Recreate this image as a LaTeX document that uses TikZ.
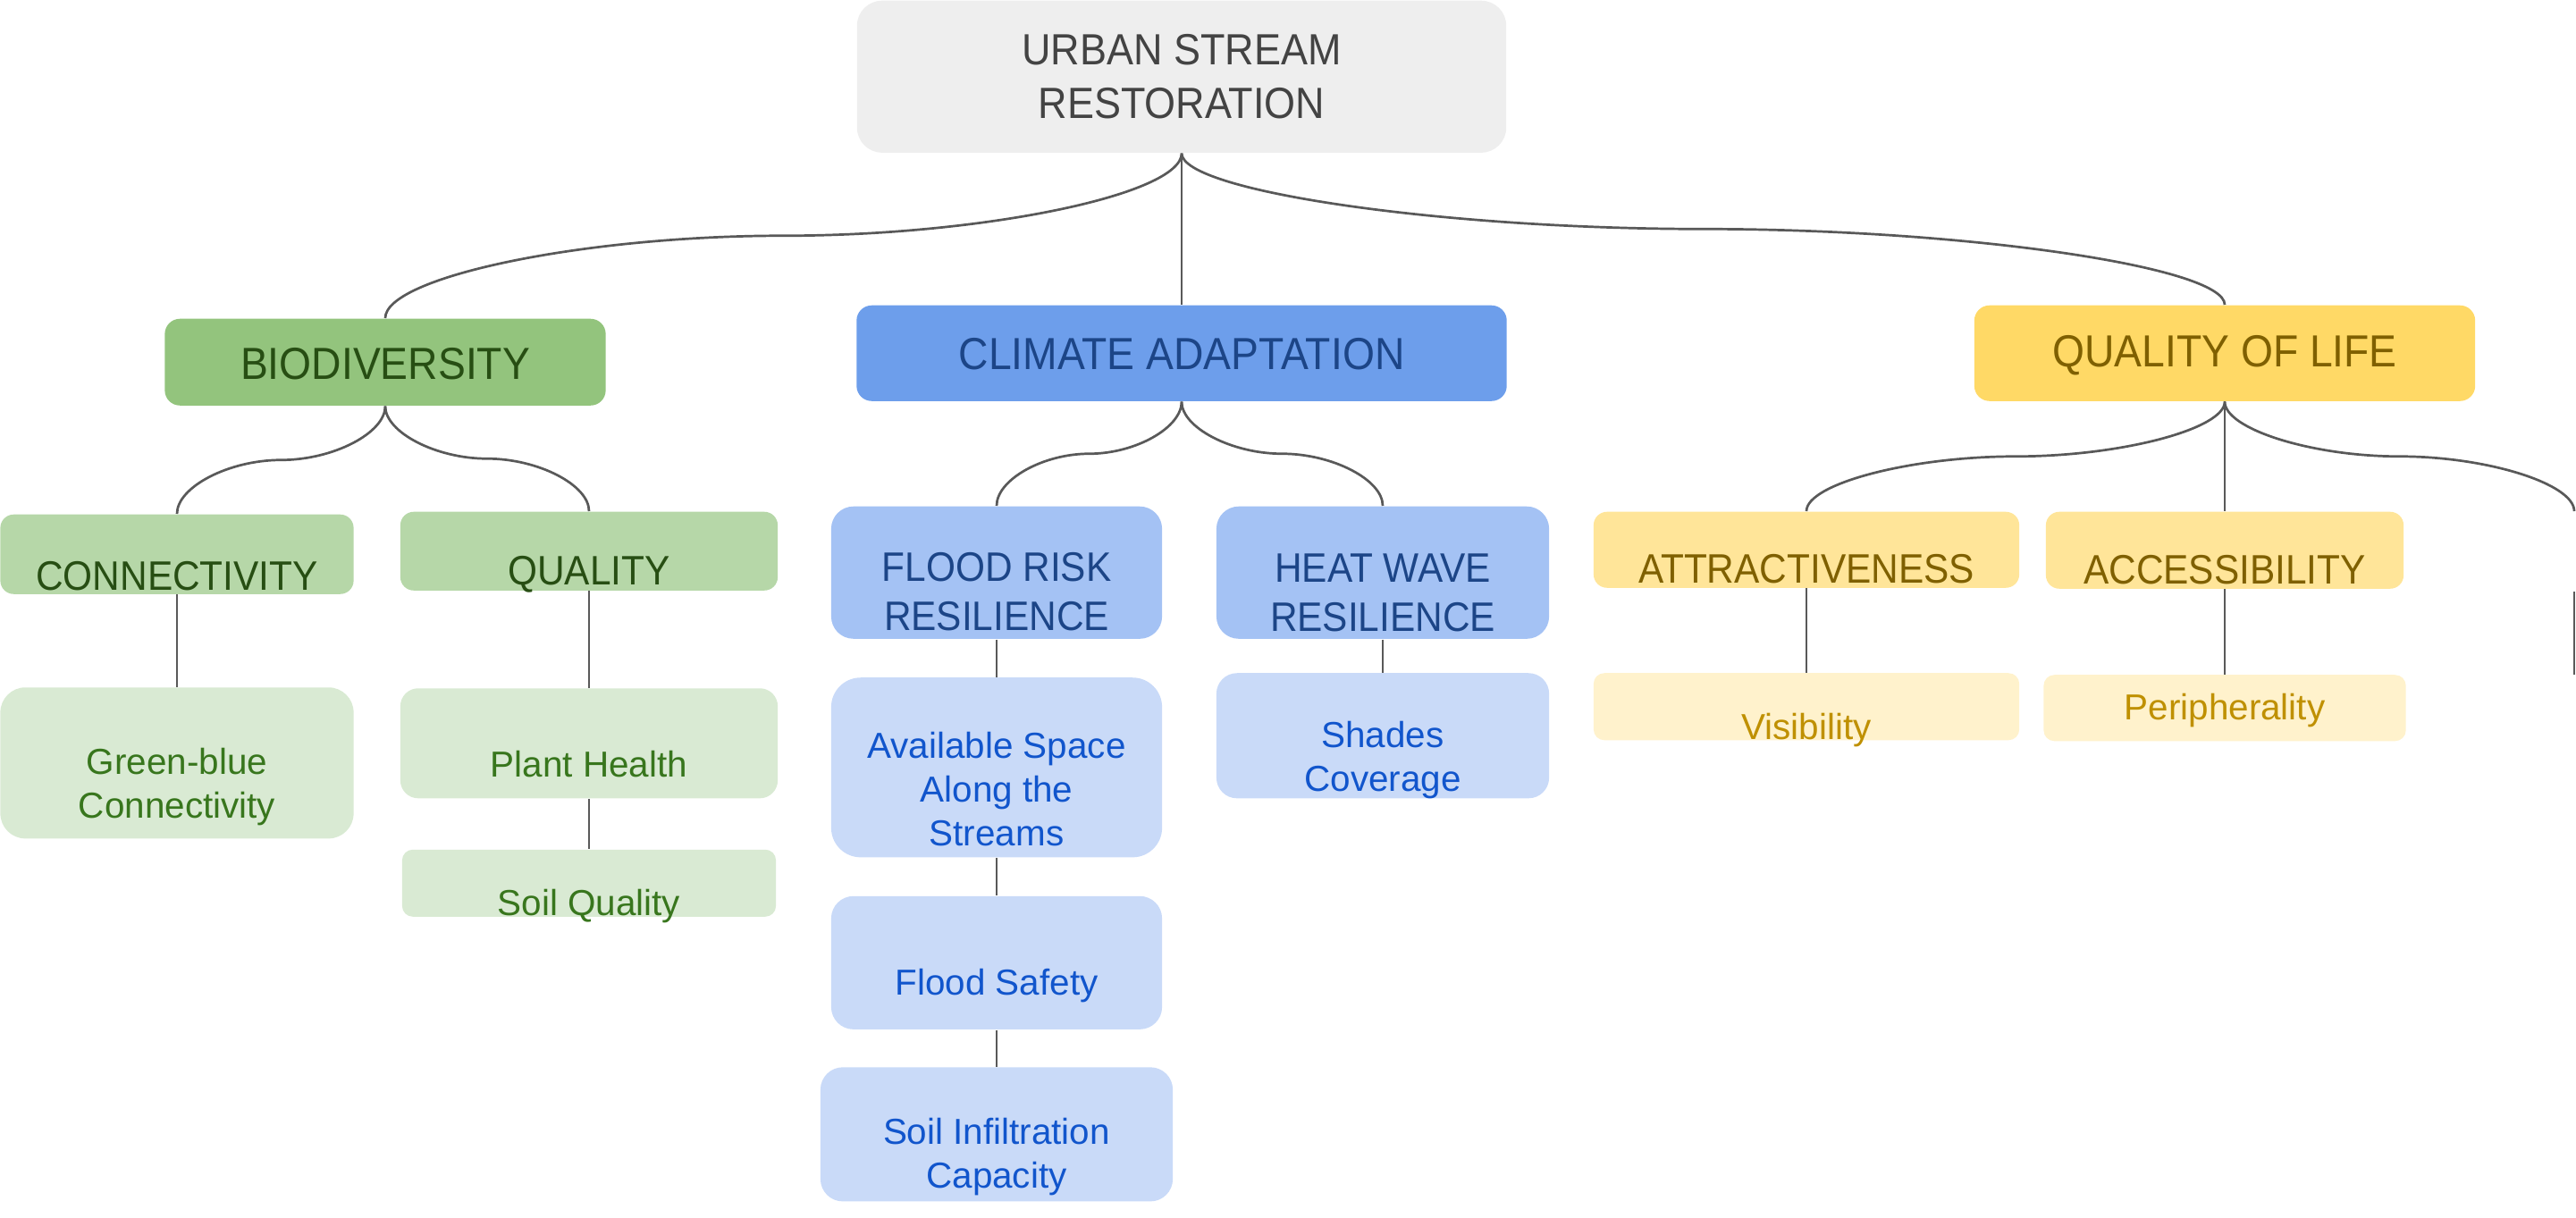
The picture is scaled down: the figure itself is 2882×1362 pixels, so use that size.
\documentclass[tikz,border=0pt]{standalone}
\usepackage{fontspec}
\setmainfont{Liberation Sans}[FakeStretch=0.92]
\newfontfamily\leaffont{Liberation Sans}
\usetikzlibrary{positioning, calc}

\definecolor{rootfill}{HTML}{EEEEEE}
\definecolor{roottext}{HTML}{434343}
\definecolor{linegray}{HTML}{595959}
\definecolor{greenA}{HTML}{93C47D}
\definecolor{greenB}{HTML}{B6D7A8}
\definecolor{greenC}{HTML}{D9EAD3}
\definecolor{greenD}{HTML}{274E13}
\definecolor{greenE}{HTML}{38761D}
\definecolor{blueA}{HTML}{6D9EEB}
\definecolor{blueB}{HTML}{A4C2F4}
\definecolor{blueC}{HTML}{C9DAF8}
\definecolor{blueD}{HTML}{1C4587}
\definecolor{blueE}{HTML}{1155CC}
\definecolor{yellowA}{HTML}{FFD966}
\definecolor{yellowB}{HTML}{FFE599}
\definecolor{yellowC}{HTML}{FFF2CC}
\definecolor{yellowD}{HTML}{7F6000}
\definecolor{yellowE}{HTML}{BF9000}

\newcommand{\txtroot}{\fontsize{13.9pt}{17.1pt}\selectfont}
\newcommand{\txtone}{\fontsize{14.3pt}{17.1pt}\selectfont}
\newcommand{\txttwo}{\fontsize{13.1pt}{15.6pt}\selectfont}
\newcommand{\txtthree}{\leaffont\fontsize{11.5pt}{13.9pt}\selectfont}

\begin{document}
\begin{tikzpicture}[
    x=0.01cm, y=-0.01cm,
    node distance=0.4cm,
    box/.style={rectangle, inner sep=0pt, align=center, anchor=north},
    rootbox/.style={box, fill=rootfill, text=roottext, font=\txtroot, rounded corners=0.28cm},
    lvone/.style={box, font=\txtone, rounded corners=0.17cm, fill=#1A, text=#1D},
    lvtwo/.style={box, font=\txttwo, rounded corners=0.15cm, fill=#1B, text=#1D},
    lvthree/.style={box, font=\txtthree, rounded corners=0.25cm, fill=#1C, text=#1E},
    link/.style={draw=linegray, line width=0.77pt},
    sbranch/.style={to path={let \p1=(\tikztostart), \p2=(\tikztotarget) in
      .. controls (\x1,{0.75*\y1+0.25*\y2}) and ({0.75*\x1+0.25*\x2},{0.5*\y1+0.5*\y2})
      .. ({0.5*\x1+0.5*\x2},{0.5*\y1+0.5*\y2})
      .. controls ({0.25*\x1+0.75*\x2},{0.5*\y1+0.5*\y2}) and (\x2,{0.25*\y1+0.75*\y2})
      .. (\x2,\y2)}}
  ]
  \useasboundingbox (0,0) rectangle (2882,1362);

  % top
  \node (root) [rootbox, minimum width=7.26cm, text height=1.32cm, text depth=0.38cm] at (1322,0) {URBAN STREAM\\RESTORATION};

  % main themes
  \node (bio) [lvone=green, minimum width=4.93cm, text height=0.68cm, text depth=0.29cm] at (431,356) {BIODIVERSITY};
  \node (clim) [lvone=blue, minimum width=7.27cm, text height=0.72cm, text depth=0.35cm] at (1322,341) {CLIMATE ADAPTATION};
  \node (qol) [lvone=yellow, minimum width=5.60cm, text height=0.69cm, text depth=0.38cm] at (2489,341) {QUALITY OF LIFE};

  % sub themes
  \node (conn) [lvtwo=green, minimum width=3.95cm, text height=0.85cm, text depth=0.04cm] at (198,575) {CONNECTIVITY};
  \node (qual) [lvtwo=green, minimum width=4.22cm, text height=0.82cm, text depth=0.06cm] at (659,572) {QUALITY};
  \node (flood) [lvtwo=blue, minimum width=3.70cm, text height=1.39cm, text depth=0.09cm, rounded corners=0.25cm] at (1115,566) {FLOOD RISK\\RESILIENCE};
  \node (heat) [lvtwo=blue, minimum width=3.72cm, text height=1.40cm, text depth=0.08cm, rounded corners=0.25cm] at (1547,566) {HEAT WAVE\\RESILIENCE};
  \node (attr) [lvtwo=yellow, minimum width=4.76cm, text height=0.80cm, text depth=0.05cm] at (2021,572) {ATTRACTIVENESS};
  \node (acc) [lvtwo=yellow, minimum width=4.00cm, text height=0.81cm, text depth=0.05cm] at (2489,572) {ACCESSIBILITY};
  \coordinate (offq) at (2880,572);
  \coordinate (offa) at (2880,662);
  \coordinate (offb) at (2880,755);

  % indicators
  \node (gb) [lvthree=green, below=1.03cm of conn, minimum width=3.95cm, text height=1.46cm, text depth=0.23cm, rounded corners=0.28cm] {Green-blue\\Connectivity};
  \node (plant) [lvthree=green, below=1.08cm of qual, minimum width=4.22cm, text height=0.99cm, text depth=0.24cm, rounded corners=0.2cm] {Plant Health};
  \node (soilq) [lvthree=green, below=0.56cm of plant, minimum width=4.18cm, text height=0.74cm, text depth=0.01cm, rounded corners=0.12cm] {Soil Quality};
  \node (avail) [lvthree=blue, below=0.42cm of flood, minimum width=3.70cm, text height=1.88cm, text depth=0.13cm, rounded corners=0.33cm] {Available Space\\Along the\\Streams};
  \node (fsafe) [lvthree=blue, below=0.42cm of avail, minimum width=3.70cm, text height=1.11cm, text depth=0.38cm] {Flood Safety};
  \node (soilinf) [lvthree=blue, below=0.41cm of fsafe, minimum width=3.94cm, text height=1.35cm, text depth=0.15cm] {Soil Infiltration\\Capacity};
  \node (shades) [lvthree=blue, below=0.37cm of heat, minimum width=3.72cm, text height=1.32cm, text depth=0.08cm, rounded corners=0.23cm] {Shades\\Coverage};
  \node (vis) [lvthree=yellow, below=0.94cm of attr, minimum width=4.76cm, text height=0.74cm, text depth=0.01cm, rounded corners=0.12cm] {Visibility};
  \node (peri) [lvthree=yellow, below=0.95cm of acc, minimum width=4.05cm, text height=0.50cm, text depth=0.24cm, rounded corners=0.12cm] {Peripherality};

  \draw [link] (root.south) to[sbranch] (bio.north);
  \draw [link] (root.south) -- (clim.north);
  \draw [link] (root.south) to[sbranch] (qol.north);
  \draw [link] (bio.south) to[sbranch] (conn.north);
  \draw [link] (bio.south) to[sbranch] (qual.north);
  \draw [link] (clim.south) to[sbranch] (flood.north);
  \draw [link] (clim.south) to[sbranch] (heat.north);
  \draw [link] (qol.south) to[sbranch] (attr.north);
  \draw [link] (qol.south) -- (acc.north);
  \draw [link] (qol.south) to[sbranch] (offq);
  \draw [link] (offa) -- (offb);
  \draw [link] (conn.south) -- (gb.north);
  \draw [link] (qual.south) -- (plant.north);
  \draw [link] (plant.south) -- (soilq.north);
  \draw [link] (flood.south) -- (avail.north);
  \draw [link] (avail.south) -- (fsafe.north);
  \draw [link] (fsafe.south) -- (soilinf.north);
  \draw [link] (heat.south) -- (shades.north);
  \draw [link] (attr.south) -- (vis.north);
  \draw [link] (acc.south) -- (peri.north);
\end{tikzpicture}
\end{document}
